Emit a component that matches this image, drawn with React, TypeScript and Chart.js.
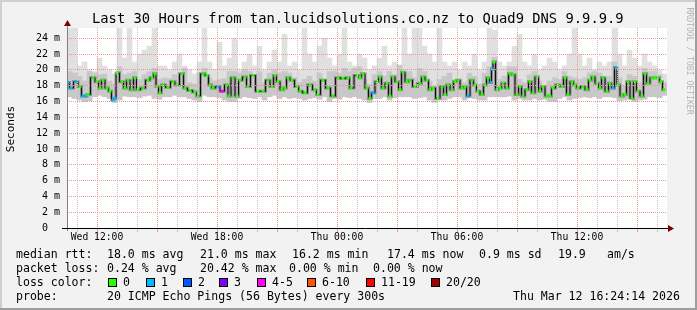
import React, { useEffect, useRef } from 'react';
import { Chart, registerables } from 'chart.js';

Chart.register(...registerables);

const TITLE = 'Last 30 Hours from tan.lucidsolutions.co.nz to Quad9 DNS 9.9.9.9';
const Y_TITLE = 'Seconds';
const WATERMARK = 'RRDTOOL / TOBI OETIKER';
const MONO = '"DejaVu Sans Mono", "Liberation Mono", monospace';

// time axis: minutes since Wed 10:30
const X_MAX_MIN = 1800;
const xGridMinutes = [30, 90, 150, 210, 270, 330, 390, 450, 510, 570, 630, 690, 750, 810, 870, 930, 990, 1050, 1110, 1170, 1230, 1290, 1350, 1410, 1470, 1530, 1590, 1650, 1710, 1770];
const xMajorMinutes = [90, 270, 450, 630, 810, 990, 1170, 1350, 1530, 1710];
const xLabelMinutes = [90, 450, 810, 1170, 1530];
const xLabels = ['Wed 12:00', 'Wed 18:00', 'Thu 00:00', 'Thu 06:00', 'Thu 12:00'];

// median rtt (ms) samples
const medianMinutes = [
  3, 12, 27, 39, 48, 57, 63, 78, 90, 99, 108, 120, 129, 138, 144, 150, 165, 174, 183, 195,
  204, 213, 228, 243, 255, 264, 270, 279, 288, 303, 318, 330, 345, 354, 369, 384, 393, 408, 420, 429,
  438, 453, 465, 480, 486, 498, 510, 519, 534, 543, 558, 573, 588, 603, 615, 624, 633, 645, 654, 663,
  675, 690, 699, 714, 729, 744, 753, 768, 783, 798, 813, 828, 843, 852, 870, 879, 888, 900, 909, 918,
  930, 939, 948, 960, 969, 978, 990, 999, 1008, 1020, 1029, 1044, 1059, 1068, 1080, 1089, 1098, 1113, 1125, 1134,
  1143, 1155, 1164, 1173, 1185, 1194, 1203, 1215, 1224, 1233, 1245, 1254, 1263, 1272, 1275, 1281, 1290, 1299, 1308, 1320,
  1329, 1338, 1350, 1359, 1368, 1380, 1389, 1398, 1410, 1419, 1428, 1440, 1449, 1458, 1473, 1485, 1494, 1503, 1515, 1524,
  1533, 1548, 1560, 1569, 1578, 1590, 1599, 1608, 1620, 1629, 1638, 1647, 1653, 1665, 1674, 1683, 1695, 1704, 1713, 1725,
  1734, 1743, 1755, 1764, 1773, 1782, 1791,
];
const medianMs = [
  18.4, 17.7, 18.5, 17.9, 16.7, 16.7, 16.9, 19.0, 18.5, 17.7, 18.7, 17.7, 17.3, 16.2, 16.4, 19.6, 18.5, 17.7, 18.7, 17.5,
  19.0, 17.5, 17.7, 18.7, 19.0, 19.5, 17.9, 17.1, 18.1, 17.8, 18.5, 18.1, 19.5, 17.7, 17.4, 17.2, 16.7, 19.5, 19.3, 18.1,
  17.7, 17.9, 17.3, 18.1, 16.7, 19.0, 16.7, 18.7, 19.1, 17.9, 19.3, 17.3, 17.3, 18.7, 17.9, 19.3, 18.5, 17.5, 17.7, 19.0,
  18.7, 17.9, 17.3, 17.1, 18.1, 17.5, 16.9, 18.7, 17.7, 16.7, 19.0, 18.9, 19.0, 17.7, 19.3, 19.0, 19.5, 17.7, 16.4, 17.1,
  18.5, 19.1, 17.7, 18.3, 16.7, 19.1, 18.5, 17.5, 19.7, 18.5, 18.7, 17.9, 18.3, 19.1, 18.7, 17.5, 17.7, 16.4, 17.9, 16.9,
  18.1, 17.5, 18.5, 18.7, 17.7, 17.9, 16.7, 18.7, 18.1, 17.3, 16.9, 18.1, 19.0, 18.4, 20.1, 21.0, 17.5, 17.7, 18.3, 17.7,
  19.5, 19.4, 16.9, 17.9, 16.7, 17.5, 18.5, 17.1, 19.1, 17.3, 17.9, 16.7, 16.7, 17.7, 18.1, 17.9, 19.0, 16.9, 18.5, 18.1,
  17.7, 17.9, 17.5, 18.7, 19.1, 18.3, 17.7, 19.0, 17.3, 18.3, 17.7, 20.3, 18.1, 16.7, 16.9, 18.5, 16.4, 18.5, 17.3, 16.7,
  19.5, 18.3, 19.0, 19.0, 19.0, 18.5, 17.5,
];
const medianLoss = [
  1, 1, 1, 0, 1, 1, 0, 0, 0, 0, 0, 0, 0, 1, 1, 0, 0, 0, 0, 0,
  0, 0, 0, 0, 0, 0, 0, 0, 0, 0, 0, 0, 0, 0, 0, 0, 0, 0, 0, 0,
  0, 1, 4, 0, 0, 0, 0, 0, 0, 0, 0, 0, 0, 0, 0, 0, 0, 0, 0, 0,
  0, 0, 0, 0, 0, 0, 0, 0, 0, 0, 0, 0, 0, 0, 0, 0, 0, 0, 0, 1,
  0, 0, 0, 0, 0, 0, 0, 0, 0, 0, 0, 0, 0, 0, 0, 0, 0, 0, 0, 0,
  0, 0, 0, 0, 0, 0, 1, 0, 0, 0, 0, 0, 0, 1, 1, 0, 0, 0, 0, 0,
  0, 0, 0, 0, 0, 0, 0, 0, 0, 0, 0, 0, 0, 0, 0, 0, 0, 0, 0, 0,
  0, 0, 0, 0, 0, 0, 0, 0, 0, 0, 1, 1, 0, 0, 0, 0, 0, 0, 0, 0,
  0, 0, 0, 0, 0, 0, 0,
];

// smoke: one column per 15 minutes
const SMOKE_STEP_MIN = 15;
const smokeMax = [
  25.5, 25.5, 20.5, 21.0, 20.0, 19.8, 21.5, 20.5, 20.0, 19.5,
  25.5, 21.5, 25.5, 21.0, 22.0, 22.5, 23.0, 25.5, 20.5, 20.5,
  20.0, 21.0, 22.0, 20.5, 20.0, 19.5, 21.0, 25.5, 21.0, 20.0,
  23.5, 20.5, 21.5, 24.0, 20.0, 21.0, 22.0, 20.5, 23.0, 20.0,
  21.0, 22.5, 21.0, 24.5, 20.5, 21.0, 20.0, 25.5, 22.0, 21.0,
  23.0, 24.0, 21.5, 20.5, 22.0, 25.5, 21.0, 20.5, 22.0, 21.5,
  20.0, 20.5, 21.5, 23.0, 20.5, 21.0, 20.5, 25.5, 22.0, 25.5,
  25.5, 23.0, 22.0, 21.0, 25.5, 21.0, 20.5, 21.0, 20.0, 21.0,
  20.5, 22.0, 20.0, 21.0, 25.5, 25.0, 21.0, 20.5, 21.0, 23.0,
  24.5, 21.0, 20.5, 22.0, 20.0, 20.5, 21.5, 21.0, 20.0, 20.5,
  22.0, 25.5, 22.0, 20.5, 21.5, 20.0, 21.0, 20.5, 21.0, 25.5,
  22.0, 20.5, 22.5, 21.5, 20.5, 22.0, 21.0, 20.5, 20.0, 19.5,
];
const smokeMid = [
  19.8, 19.6, 19.2, 18.6, 19.8, 19.6, 19.4, 19.5, 18.6, 18.2,
  20.4, 19.4, 19.6, 19.8, 18.8, 19.4, 19.8, 20.2, 18.8, 19.0,
  18.9, 19.4, 19.2, 20.2, 18.4, 18.2, 19.6, 20.2, 19.0, 18.6,
  18.8, 18.9, 19.8, 19.8, 19.6, 20.0, 19.8, 19.2, 19.8, 18.4,
  19.6, 20.0, 19.6, 19.8, 19.6, 19.0, 18.4, 18.8, 19.2, 18.6,
  19.6, 18.8, 19.8, 19.8, 19.6, 20.2, 19.8, 20.2, 20.4, 18.8,
  18.2, 19.4, 19.8, 19.2, 19.8, 19.4, 20.6, 19.6, 19.8, 19.0,
  20.2, 19.8, 18.6, 17.8, 18.8, 19.2, 19.6, 18.8, 18.8, 18.4,
  19.6, 19.2, 18.2, 19.6, 20.4, 21.6, 18.8, 19.2, 20.4, 20.4,
  18.8, 18.4, 19.4, 19.8, 18.6, 17.8, 18.6, 19.0, 18.8, 19.8,
  19.2, 19.0, 18.8, 19.0, 19.6, 19.8, 19.6, 18.8, 19.2, 21.0,
  19.0, 18.0, 19.4, 19.2, 18.4, 20.2, 19.8, 19.8, 19.4, 18.4,
];
const smokeMin = [
  16.6, 16.4, 16.2, 16.0, 16.1, 16.6, 16.8, 16.6, 16.4, 15.9,
  16.2, 16.7, 16.6, 16.6, 16.5, 16.7, 16.8, 16.4, 16.3, 16.6,
  16.6, 16.8, 16.6, 16.6, 16.4, 16.2, 16.0, 16.8, 16.6, 16.6,
  16.5, 16.2, 16.0, 16.0, 16.4, 16.6, 16.5, 16.4, 16.6, 16.2,
  16.6, 16.8, 16.4, 16.6, 16.4, 16.5, 16.4, 16.2, 16.4, 16.5,
  16.3, 16.6, 16.0, 16.4, 16.3, 16.6, 16.5, 16.6, 16.4, 16.2,
  15.9, 16.4, 16.4, 16.6, 16.2, 16.5, 16.6, 16.6, 16.6, 16.4,
  16.5, 16.6, 16.2, 15.9, 16.2, 16.2, 16.4, 16.6, 16.6, 16.2,
  16.5, 16.4, 16.2, 16.2, 16.6, 16.6, 16.6, 16.6, 16.7, 16.2,
  16.4, 16.2, 16.2, 16.4, 16.2, 16.3, 16.0, 16.0, 16.4, 16.6,
  16.2, 16.4, 16.5, 16.6, 16.5, 16.6, 16.4, 16.6, 16.6, 16.5,
  16.1, 16.2, 16.4, 16.0, 16.2, 16.3, 16.6, 16.6, 16.5, 16.8,
];

const Y_MAX = 25.3;

const rttLabel = 'median rtt:';
const rttLegend = ['18.0 ms avg', '21.0 ms max', '16.2 ms min', '17.4 ms now', '0.9 ms sd', '19.9', 'am/s'];
const lossLabel = 'packet loss:';
const lossLegend = ['0.24 % avg', '20.42 % max', '0.00 % min', '0.00 % now'];
const lossColorLabel = 'loss color:';
const lossClassLabels = ['0', '1', '2', '3', '4-5', '6-10', '11-19', '20/20'];
const lossClassColors = ['#26ff00', '#00b8ff', '#0059ff', '#7e00ff', '#ff00ff', '#ff5500', '#ff0000', '#a10000'];
const probeLabel = 'probe:';
const probeText = '20 ICMP Echo Pings (56 Bytes) every 300s';
const stampText = 'Thu Mar 12 16:24:14 2026';

function lossColor(l: number) {
  if (l <= 0) return lossClassColors[0];
  if (l === 1) return lossClassColors[1];
  if (l === 2) return lossClassColors[2];
  if (l === 3) return lossClassColors[3];
  if (l <= 5) return lossClassColors[4];
  if (l <= 10) return lossClassColors[5];
  if (l <= 19) return lossClassColors[6];
  return lossClassColors[7];
}

const GRID_GRAY = 'rgb(196,196,196)';
const GRID_RED = 'rgb(232,150,150)';

const rrdPlugin = {
  id: 'rrdFrame',
  beforeDraw(chart: any) {
    const { ctx, width, height, chartArea: a } = chart;
    ctx.save();
    ctx.fillStyle = '#f2f2f2';
    ctx.fillRect(0, 0, width, height);
    ctx.fillStyle = '#cfcfcf';
    ctx.fillRect(0, 0, width, 2);
    ctx.fillRect(0, 0, 2, height);
    ctx.fillStyle = '#9e9e9e';
    ctx.fillRect(0, height - 2, width, 2);
    ctx.fillRect(width - 2, 0, 2, height);
    ctx.fillStyle = '#ffffff';
    ctx.fillRect(a.left, a.top, a.right - a.left, a.bottom - a.top);
    ctx.restore();
  },
  afterDraw(chart: any) {
    const { ctx, chartArea: a } = chart;
    ctx.save();
    // axes
    ctx.lineWidth = 1;
    ctx.strokeStyle = '#808080';
    ctx.beginPath();
    ctx.moveTo(a.left + 0.5, a.bottom + 3);
    ctx.lineTo(a.left + 0.5, a.top - 3);
    ctx.stroke();
    ctx.strokeStyle = '#000000';
    ctx.beginPath();
    ctx.moveTo(a.left - 5, a.bottom + 0.5);
    ctx.lineTo(a.right + 2, a.bottom + 0.5);
    ctx.stroke();
    // arrows
    ctx.fillStyle = '#7f0000';
    ctx.beginPath();
    ctx.moveTo(a.left - 3, a.top - 2);
    ctx.lineTo(a.left + 4, a.top - 2);
    ctx.lineTo(a.left + 0.5, a.top - 8);
    ctx.closePath();
    ctx.fill();
    ctx.beginPath();
    ctx.moveTo(a.right + 1, a.bottom - 3);
    ctx.lineTo(a.right + 1, a.bottom + 4);
    ctx.lineTo(a.right + 7, a.bottom + 0.5);
    ctx.closePath();
    ctx.fill();

    // title
    ctx.fillStyle = '#000';
    ctx.textBaseline = 'middle';
    ctx.textAlign = 'left';
    ctx.font = `13.8px ${MONO}`;
    ctx.fillText(TITLE, 92, 19);

    // y title
    ctx.save();
    ctx.translate(11, 129);
    ctx.rotate(-Math.PI / 2);
    ctx.textAlign = 'center';
    ctx.font = `11px ${MONO}`;
    ctx.fillText(Y_TITLE, 0, 0);
    ctx.restore();

    // watermark
    ctx.save();
    ctx.translate(689, 61);
    ctx.rotate(Math.PI / 2);
    ctx.textAlign = 'center';
    ctx.fillStyle = '#b4b4b4';
    ctx.font = `8.1px ${MONO}`;
    ctx.fillText(WATERMARK, 0, 0);
    ctx.restore();

    // legend
    ctx.font = `11.56px ${MONO}`;
    ctx.fillStyle = '#000';
    const r1 = 254.5, r2 = 268.5, r3 = 282.5, r4 = 296.5;
    ctx.fillText(rttLabel, 16, r1);
    const rttX = [107, 200, 292, 387, 479, 558, 607];
    rttLegend.forEach((t, i) => ctx.fillText(t, rttX[i], r1));
    ctx.fillText(lossLabel, 16, r2);
    const lossX = [107, 200, 289, 373];
    lossLegend.forEach((t, i) => ctx.fillText(t, lossX[i], r2));
    ctx.fillText(lossColorLabel, 16, r3);
    const boxX = [108, 145.7, 182.7, 219.3, 256.7, 306.7, 365.7, 431];
    lossClassLabels.forEach((t, i) => {
      const bx = Math.round(boxX[i]);
      ctx.fillStyle = '#000';
      ctx.fillRect(bx, Math.round(r3 - 5), 9, 9);
      ctx.fillStyle = lossClassColors[i];
      ctx.fillRect(bx + 1, Math.round(r3 - 4), 7, 7);
      ctx.fillStyle = '#000';
      ctx.fillText(t, bx + 15, r3);
    });
    ctx.fillText(probeLabel, 16, r4);
    ctx.fillText(probeText, 107, r4);
    ctx.fillText(stampText, 513, r4);
    ctx.restore();
  },
};

export default function App() {
  const ref = useRef<HTMLCanvasElement | null>(null);
  useEffect(() => {
    if (!ref.current) return;
    const colX = smokeMax.map((_, i) => SMOKE_STEP_MIN / 2 + i * SMOKE_STEP_MIN);
    const medianPts = medianMinutes.map((m, i) => ({ x: m, y: medianMs[i] }));
    const chart = new Chart(ref.current, {
      type: 'bar',
      data: {
        datasets: [
          {
            type: 'bar',
            data: colX.map((x, i) => ({ x, y: [smokeMin[i], smokeMax[i]] })) as any,
            backgroundColor: '#e0e0e0',
            barThickness: 5,
            grouped: false,
            borderWidth: 0,
            order: 5,
          } as any,
          {
            type: 'bar',
            data: colX.map((x, i) => ({ x, y: [smokeMin[i], smokeMid[i]] })) as any,
            backgroundColor: '#c8c8c8',
            barThickness: 5,
            grouped: false,
            borderWidth: 0,
            order: 4,
          } as any,
          {
            type: 'line',
            data: medianPts,
            borderColor: 'rgba(70,70,70,0.45)',
            borderWidth: 3,
            stepped: 'middle',
            pointRadius: 0,
            order: 3,
          } as any,
          {
            type: 'line',
            data: medianPts,
            borderColor: '#101010',
            borderWidth: 1,
            stepped: 'middle',
            pointRadius: 0,
            order: 2,
          } as any,
          {
            type: 'line',
            data: medianPts,
            showLine: false,
            pointStyle: 'rect',
            pointRadius: 2.1,
            pointBorderWidth: 0,
            pointBackgroundColor: medianLoss.map(lossColor),
            order: 1,
          } as any,
        ],
      },
      options: {
        animation: false,
        responsive: false,
        devicePixelRatio: 1,
        layout: { padding: { top: 28, right: 30, left: 0, bottom: 0 } },
        plugins: { legend: { display: false }, tooltip: { enabled: false }, title: { display: false } },
        scales: {
          x: {
            type: 'linear',
            min: 0,
            max: X_MAX_MIN,
            offset: false,
            afterFit: (s: any) => { s.height = 82; },
            afterBuildTicks: (s: any) => { s.ticks = xGridMinutes.map((v) => ({ value: v })); },
            grid: {
              offset: false,
              z: 1,
              color: (c: any) => (xMajorMinutes.includes(c.tick?.value) ? GRID_RED : GRID_GRAY),
              tickColor: (c: any) => (xMajorMinutes.includes(c.tick?.value) ? GRID_RED : GRID_GRAY),
              drawTicks: true,
              tickLength: 4,
              lineWidth: 1,
            },
            border: { display: false, dash: [1, 1] },
            ticks: {
              autoSkip: false,
              maxRotation: 0,
              padding: 0,
              color: '#000',
              font: { family: MONO, size: 9.7 },
              callback: (v: any) => {
                const i = xLabelMinutes.indexOf(Number(v));
                return i >= 0 ? xLabels[i] : '';
              },
            },
          },
          y: {
            type: 'linear',
            min: 0,
            max: Y_MAX,
            afterFit: (s: any) => { s.width = 67; },
            grid: {
              z: 1,
              drawTicks: false,
              color: (c: any) => (c.tick?.value === 0 ? 'rgba(0,0,0,0)' : c.tick?.value % 2 === 0 ? GRID_RED : GRID_GRAY),
              lineWidth: 1,
            },
            border: { display: false, dash: [1, 1] },
            ticks: {
              stepSize: 1,
              includeBounds: false,
              padding: 7,
              color: '#000',
              font: { family: MONO, size: 10 },
              callback: (v: any) => {
                const n = Number(v);
                if (n % 2 !== 0) return '';
                return n === 0 ? '0  ' : `${n} m`;
              },
            },
          },
        },
      },
      plugins: [rrdPlugin],
    } as any);
    return () => chart.destroy();
  }, []);
  return (
    <div style={{ position: 'fixed', left: 0, top: 0, width: 697, height: 310 }}>
      <canvas ref={ref} width={697} height={310} style={{ display: 'block' }} />
    </div>
  );
}
